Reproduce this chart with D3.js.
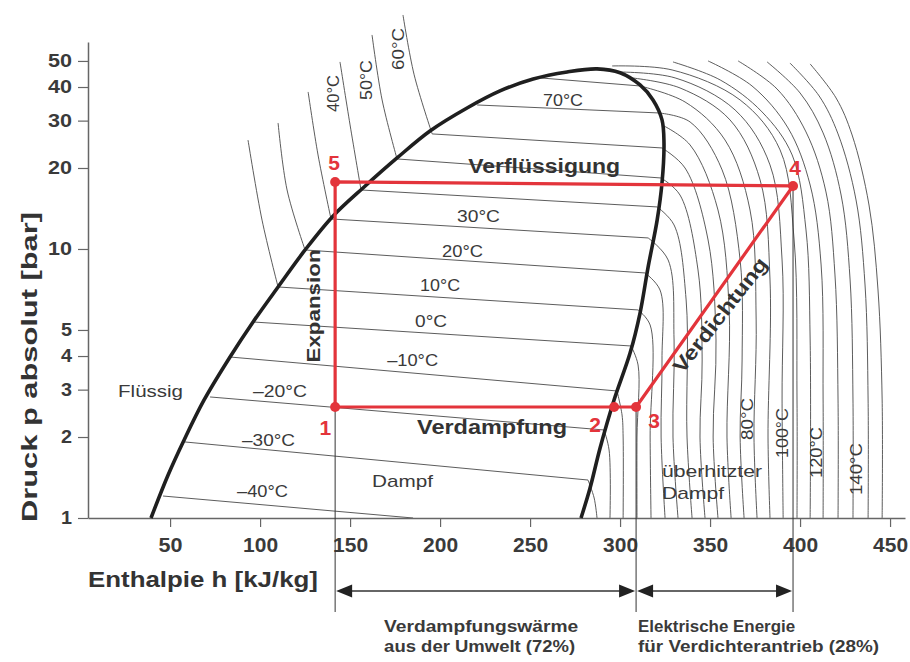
<!DOCTYPE html>
<html>
<head>
<meta charset="utf-8">
<script src="https://cdn.jsdelivr.net/npm/d3@7"></script>
<style>
  body { margin: 0; background: #fff; }
  svg { display: block; font-family: "Liberation Sans", Arial, Helvetica, sans-serif; }
</style>
</head>
<body>
<svg id="chart" width="910" height="662"></svg>
<script>
// --- values (h in kJ/kg, p in bar) ---
const enthalpyTicks = [50, 100, 150, 200, 250, 300, 350, 400, 450];
const pressureTicks = [1, 2, 3, 4, 5, 10, 20, 30, 40, 50];

// saturation dome: liquid side up to the critical point, then vapour side down
const domeCurve = [
  [39.4, 1], [48.9, 1.445], [57.8, 1.95], [68.9, 2.746], [83.3, 3.967], [96.1, 5.353],
  [110, 7.224], [125, 9.915], [140.6, 13.27], [157.8, 17.0], [176.1, 21.79],
  [194.4, 27.46], [215, 33.43], [233.3, 38.68], [251.7, 42.85], [270.6, 45.5], [287.2, 46.7],
  [300, 45.2], [311.1, 40.7], [318.3, 35.8], [323.3, 30.2], [324.4, 24.8], [323.3, 17.6],
  [320.6, 12.8], [315.6, 8.58], [311.1, 5.78], [305.6, 4.11], [296.7, 2.75],
  [288.9, 1.82], [283.3, 1.29], [278.3, 1]
];

// isotherms inside the dome, -40 .. 80 °C
const wetIsotherms = [
  [[46.1, 1.207], [185, 1]],
  [[58.3, 1.917], [282.2, 1.384]],
  [[72.2, 2.818], [291.1, 2.124]],
  [[83.3, 3.967], [298.3, 2.966]],
  [[96.1, 5.353], [306.1, 4.359]],
  [[110, 7.224], [310, 5.934]],
  [[125, 9.915], [313.9, 8.144]],
  [[139.4, 12.93], [315.6, 10.99]],
  [[156.1, 16.57], [320.6, 14.33]],
  [[176.1, 21.61], [322.8, 18.36]],
  [[195.6, 26.77], [323.3, 23.74]],
  [[220.6, 34.3], [321.7, 32.03]],
  [[255.6, 43.24], [311.1, 40.36]]
];

// isotherms in the liquid region, 10 .. 60 °C
const liquidIsotherms = [
  [[93.3, 25.4], [101.1, 12.8], [110, 7.224]],
  [[110, 29.4], [115, 16.57], [125, 9.915]],
  [[126.7, 38.34], [132.2, 22.36], [139.4, 12.93]],
  [[144.4, 49.57], [150, 28.91], [156.1, 16.57]],
  [[162.2, 62.45], [167.8, 35.8], [176.1, 21.61]],
  [[179.4, 74.1], [185.6, 44.4], [195.6, 26.77]]
];

// isotherms in the superheated region
const superheatCurves = [
  [[282.2, 1.384], [285.6, 1.187], [287.2, 1]],
  [[291.1, 2.124], [293.9, 1.789], [294.4, 1]],
  [[298.3, 2.966], [301.1, 2.415], [301.7, 2.0], [301.7, 1]],
  [[306.1, 4.359], [310, 3.705], [309.4, 2.0], [309.4, 1]],
  [[310, 5.934], [316.7, 5.218], [316.7, 2.0], [317.2, 1]],
  [[313.9, 8.144], [322.2, 7.04], [323.3, 3.867], [322.8, 2.0], [325, 1]],
  [[315.6, 10.99], [326.7, 9.103], [330, 4.588], [329.4, 2.0], [332.2, 1]],
  [[320.6, 14.33], [330, 12.28], [336.7, 6.464], [337.2, 2.0], [340, 1]],
  [[322.8, 18.36], [333.3, 15.87], [343.3, 8.356], [345.6, 3.867], [344.4, 2.0], [347.2, 1]],
  [[323.3, 23.74], [336.1, 20.0], [348.9, 10.8], [353.3, 4.588], [351.7, 2.0], [354.4, 1]],
  [[323.3, 28.91], [338.9, 24.36], [354.4, 13.96], [360.6, 5.934], [359.4, 2.0], [361.7, 1]],
  [[321.7, 32.03], [338.9, 29.66], [356.7, 19.67], [366.7, 9.103], [367.8, 3.867], [366.7, 2.0], [368.9, 1]],
  [[311.1, 40.36], [336.1, 35.19], [358.3, 25.42], [372.2, 13.96], [375.6, 5.446], [374.4, 2.0], [376.1, 1]],
  [[306.7, 43.24], [333.3, 39.68], [361.1, 30.17], [377.8, 18.05], [383.3, 7.67], [382.2, 2.0], [383.3, 1]],
  [[298.3, 45.5], [330.6, 43.24], [363.9, 32.86], [383.3, 20.53], [390, 9.103], [390, 2.746], [390.6, 1]],
  [[295.6, 47.9], [328.9, 46.29], [366.7, 35.8], [388.9, 23.34], [396.7, 10.8], [398.3, 2.746], [398.3, 1]],
  [[329.4, 49.57], [355.6, 42.5], [378.9, 32.31], [395.6, 22.36], [403.3, 11.77], [405.6, 4.588], [405.6, 1]],
  [[348.9, 50], [373.3, 40.36], [393.3, 28.18], [405.6, 17.29], [411.7, 8.72], [412.8, 2.746], [412.8, 1]],
  [[365.6, 50], [387.2, 39.34], [403.3, 27.23], [414.4, 16.29], [419.4, 8.005], [421.1, 2.746], [421.1, 1]],
  [[381.7, 49.57], [400, 38.01], [412.8, 27.0], [422.8, 15.87], [427.8, 7.67], [429.4, 2.746], [429.4, 1]],
  [[394.4, 49.1], [410.6, 37.05], [421.1, 26.77], [431.1, 15.21], [436.1, 7.348], [437.8, 2.746], [437.8, 1]],
  [[405.6, 48.73], [420, 36.42], [428.9, 26.54], [438.3, 14.57], [443.3, 7.04], [445.6, 2.746], [445.6, 1]]
];

// heat pump cycle 1-2-3-4-5
const cycleStates = [
  { id: '1', h: 141.7, p: 2.586 },
  { id: '2', h: 296.7, p: 2.586 },
  { id: '3', h: 308.9, p: 2.586 },
  { id: '4', h: 396.1, p: 17.15 },
  { id: '5', h: 141.7, p: 17.75 }
];
const stateLabels = [['1', 136.2, 2.035], ['2', 286.1, 2.088], ['3', 318.9, 2.16], ['4', 397.2, 18.84], ['5', 141.1, 19.67]];

// labels: text, h, p, width
const wetLabels = [
  ['70°C', 257.2, 34.0, 40], ['30°C', 209.4, 12.6, 43], ['20°C', 201.1, 9.34, 41],
  ['10°C', 188.9, 7.0, 40], ['0°C', 186.1, 5.13, 32], ['–10°C', 170.6, 3.67, 51],
  ['–20°C', 96.1, 2.818, 54], ['–30°C', 90, 1.853, 53], ['–40°C', 87.2, 1.197, 51]
];
const uprightLabels = [
  ['40°C', 143.9, 32.3, 37], ['50°C', 162.2, 35.8, 40], ['60°C', 180, 46.3, 42],
  ['80°C', 373.9, 1.95, 42], ['100°C', 393.3, 1.671, 50], ['120°C', 412.2, 1.408, 51], ['140°C', 434.4, 1.217, 52]
];
const areaLabels = [
  ['Flüssig', 21.1, 2.818, 65], ['Dampf', 162.2, 1.304, 61],
  ['überhitzter', 323.3, 1.42, 100], ['Dampf', 323.3, 1.177, 62]
];

const textColor = '#3a3a3a';
const red = '#e3343b';

const svg = d3.select('#chart');
const x = d3.scaleLinear().domain([4.4, 458.3]).range([88, 905]);
const y = d3.scaleLog().domain([1, 58.8]).range([518, 42]);

const straight = d3.line().x(d => x(d[0])).y(d => y(d[1]));
const smooth = d3.line().x(d => x(d[0])).y(d => y(d[1])).curve(d3.curveCatmullRom.alpha(0.5));

// thin isotherms
const iso = svg.append('g')
  .attr('fill', 'none')
  .attr('stroke', '#4a4a4a')
  .attr('stroke-width', 0.9);

iso.selectAll('.wet').data(wetIsotherms).enter()
  .append('path').attr('class', 'wet').attr('d', straight);
iso.selectAll('.liq').data(liquidIsotherms).enter()
  .append('path').attr('class', 'liq').attr('d', smooth);
iso.selectAll('.sup').data(superheatCurves).enter()
  .append('path').attr('class', 'sup').attr('d', smooth);

// axes
const xAxis = svg.append('g')
  .attr('transform', 'translate(0,518)')
  .call(d3.axisBottom(x).tickValues(enthalpyTicks).tickSize(9).tickSizeOuter(0).tickPadding(11));
const yAxis = svg.append('g')
  .attr('transform', 'translate(88,0)')
  .call(d3.axisLeft(y).tickValues(pressureTicks).tickFormat(d3.format('d')).tickSize(10).tickSizeOuter(0).tickPadding(6));

[xAxis, yAxis].forEach(ax => {
  ax.select('.domain').attr('stroke', '#666').attr('stroke-width', 1.5);
  ax.selectAll('.tick line').attr('stroke', '#666').attr('stroke-width', 1.2);
  ax.selectAll('.tick text')
    .attr('fill', textColor)
    .style('font-family', '"Liberation Sans", Arial, sans-serif')
    .style('font-weight', 700);
});
xAxis.selectAll('.tick text').style('font-size', '20px')
  .attr('textLength', d => String(d).length === 2 ? 24 : 35)
  .attr('lengthAdjust', 'spacingAndGlyphs');
yAxis.selectAll('.tick text').style('font-size', '18px')
  .attr('textLength', d => String(d).length === 2 ? 24 : 11)
  .attr('lengthAdjust', 'spacingAndGlyphs');

// saturation dome
svg.append('path')
  .datum(domeCurve)
  .attr('d', smooth)
  .attr('fill', 'none')
  .attr('stroke', '#1f1f1f')
  .attr('stroke-width', 3.6)
  .attr('stroke-linejoin', 'round');

// vertical guide lines down to the energy arrows
const guideStates = [cycleStates[0], cycleStates[2], cycleStates[3]];
svg.selectAll('.guide').data(guideStates).enter()
  .append('line')
  .attr('class', 'guide')
  .attr('x1', d => x(d.h)).attr('x2', d => x(d.h))
  .attr('y1', d => y(d.p)).attr('y2', 612)
  .attr('stroke', '#333')
  .attr('stroke-width', 1);

// cycle
const cycleOrder = [0, 1, 2, 3, 4, 0].map(i => cycleStates[i]);
svg.append('path')
  .datum(cycleOrder)
  .attr('d', d3.line().x(d => x(d.h)).y(d => y(d.p)))
  .attr('fill', 'none')
  .attr('stroke', red)
  .attr('stroke-width', 3.2)
  .attr('stroke-linejoin', 'round');
svg.selectAll('.state').data(cycleStates).enter()
  .append('circle')
  .attr('class', 'state')
  .attr('cx', d => x(d.h)).attr('cy', d => y(d.p))
  .attr('r', 5)
  .attr('fill', red);
svg.selectAll('.stateLabel').data(stateLabels).enter()
  .append('text')
  .attr('class', 'stateLabel')
  .attr('x', d => x(d[1])).attr('y', d => y(d[2]))
  .attr('text-anchor', 'middle')
  .style('font-size', '21px').style('font-weight', 700)
  .attr('fill', red)
  .text(d => d[0]);

// labels
function addLabel(g, d, opts) {
  const t = g.append('text')
    .attr('fill', opts.color || textColor)
    .style('font-size', opts.size + 'px')
    .style('font-weight', opts.weight || 400)
    .attr('text-anchor', opts.anchor || 'start')
    .attr('textLength', d[3])
    .attr('lengthAdjust', 'spacingAndGlyphs')
    .text(d[0]);
  const px = x(d[1]);
  const py = y(d[2]);
  if (opts.rotate) t.attr('transform', `translate(${px},${py}) rotate(${opts.rotate})`);
  else t.attr('x', px).attr('y', py);
  return t;
}

const labels = svg.append('g');
wetLabels.forEach(d => addLabel(labels, d, { size: 17 }));
uprightLabels.forEach(d => addLabel(labels, d, { size: 17, rotate: -90 }));
areaLabels.forEach(d => addLabel(labels, d, { size: 17 }));

addLabel(labels, ['Verflüssigung', 215.6, 19.17, 152], { size: 20, weight: 700, color: '#333' });
addLabel(labels, ['Verdampfung', 187.2, 2.052, 150], { size: 20, weight: 700, color: '#333' });
addLabel(labels, ['Expansion', 133.3, 6.14, 113], { size: 19, weight: 700, color: '#333', rotate: -90, anchor: 'middle' });
addLabel(labels, ['Verdichtung', 358.6, 5.48, 140], { size: 20, weight: 700, color: '#333', rotate: -52, anchor: 'middle' });

// axis titles
svg.append('text')
  .attr('x', 88).attr('y', 587)
  .attr('fill', '#333')
  .style('font-size', '22px').style('font-weight', 700)
  .attr('textLength', 230).attr('lengthAdjust', 'spacingAndGlyphs')
  .text('Enthalpie h [kJ/kg]');
svg.append('text')
  .attr('transform', 'translate(37,522) rotate(-90)')
  .attr('fill', '#333')
  .style('font-size', '22px').style('font-weight', 700)
  .attr('textLength', 310).attr('lengthAdjust', 'spacingAndGlyphs')
  .text('Druck p absolut [bar]');

// energy share arrows
const arrowY = 591;
function doubleArrow(x1, x2) {
  const g = svg.append('g');
  g.append('line')
    .attr('x1', x1 + 6).attr('x2', x2 - 6)
    .attr('y1', arrowY).attr('y2', arrowY)
    .attr('stroke', '#333').attr('stroke-width', 1.3);
  g.append('path')
    .attr('d', `M${x1 + 1},${arrowY} l16,-6.5 l0,13 z M${x2 - 1},${arrowY} l-16,-6.5 l0,13 z`)
    .attr('fill', '#222');
}
doubleArrow(x(cycleStates[0].h), x(cycleStates[2].h));
doubleArrow(x(cycleStates[2].h), x(cycleStates[3].h));

const shareText = svg.append('g')
  .attr('fill', '#3a3a3a')
  .style('font-size', '16px')
  .style('font-weight', 700);
const leftX = x(cycleStates[0].h) + 49;
const rightX = x(cycleStates[2].h) + 2;
[['Verdampfungswärme', leftX, 632, 194], ['aus der Umwelt (72%)', leftX, 652, 191],
 ['Elektrische Energie', rightX, 632, 157], ['für Verdichterantrieb (28%)', rightX, 652, 241]]
  .forEach(d => {
    shareText.append('text')
      .attr('x', d[1]).attr('y', d[2])
      .attr('textLength', d[3]).attr('lengthAdjust', 'spacingAndGlyphs')
      .text(d[0]);
  });
</script>
</body>
</html>
